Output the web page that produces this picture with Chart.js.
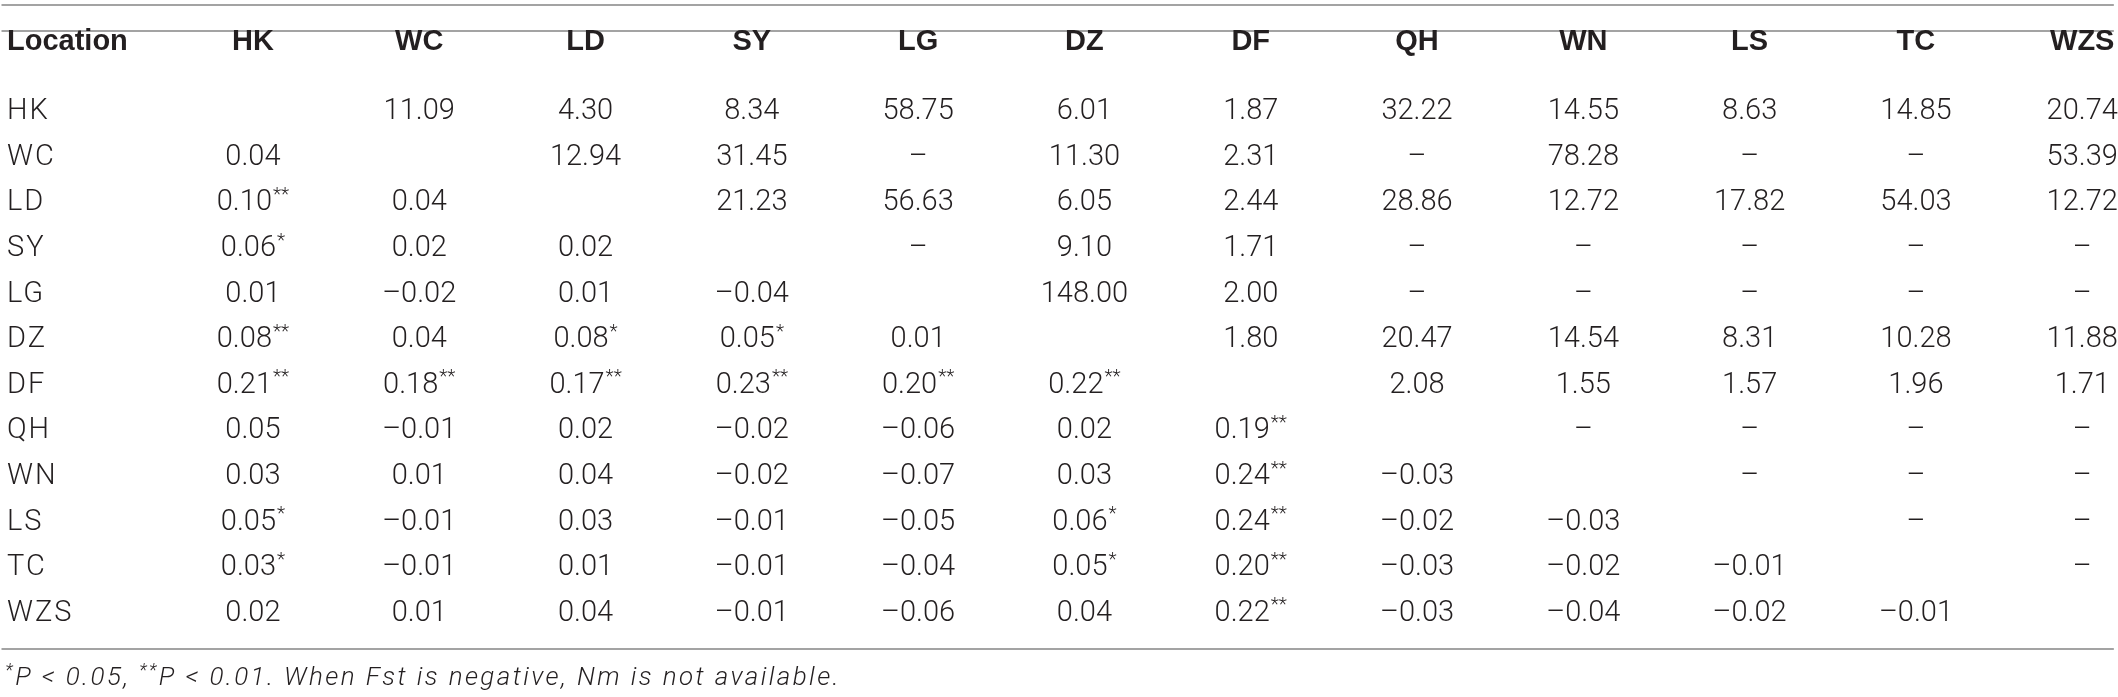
<!DOCTYPE html>
<html lang="en">
<head>
  <meta charset="UTF-8">
  <title>Fst / Nm table</title>
  <script src="https://cdn.jsdelivr.net/npm/chart.js"></script>
  <style>
    html, body { margin: 0; padding: 0; background: #fff; }
    .chart-container { position: relative; width: 2118px; height: 697px; }
  </style>
</head>
<body>

  <div class="chart-container">
    <canvas id="fstChart"></canvas>
  </div>

  <script>
    // column / row labels
    const locations = ['HK', 'WC', 'LD', 'SY', 'LG', 'DZ', 'DF', 'QH', 'WN', 'LS', 'TC', 'WZS'];

    // one array per row: below diagonal = Fst, above diagonal = Nm
    const rowHK  = ['', '11.09', '4.30', '8.34', '58.75', '6.01', '1.87', '32.22', '14.55', '8.63', '14.85', '20.74'];
    const rowWC  = ['0.04', '', '12.94', '31.45', '–', '11.30', '2.31', '–', '78.28', '–', '–', '53.39'];
    const rowLD  = ['0.10**', '0.04', '', '21.23', '56.63', '6.05', '2.44', '28.86', '12.72', '17.82', '54.03', '12.72'];
    const rowSY  = ['0.06*', '0.02', '0.02', '', '–', '9.10', '1.71', '–', '–', '–', '–', '–'];
    const rowLG  = ['0.01', '–0.02', '0.01', '–0.04', '', '148.00', '2.00', '–', '–', '–', '–', '–'];
    const rowDZ  = ['0.08**', '0.04', '0.08*', '0.05*', '0.01', '', '1.80', '20.47', '14.54', '8.31', '10.28', '11.88'];
    const rowDF  = ['0.21**', '0.18**', '0.17**', '0.23**', '0.20**', '0.22**', '', '2.08', '1.55', '1.57', '1.96', '1.71'];
    const rowQH  = ['0.05', '–0.01', '0.02', '–0.02', '–0.06', '0.02', '0.19**', '', '–', '–', '–', '–'];
    const rowWN  = ['0.03', '0.01', '0.04', '–0.02', '–0.07', '0.03', '0.24**', '–0.03', '', '–', '–', '–'];
    const rowLS  = ['0.05*', '–0.01', '0.03', '–0.01', '–0.05', '0.06*', '0.24**', '–0.02', '–0.03', '', '–', '–'];
    const rowTC  = ['0.03*', '–0.01', '0.01', '–0.01', '–0.04', '0.05*', '0.20**', '–0.03', '–0.02', '–0.01', '', '–'];
    const rowWZS = ['0.02', '0.01', '0.04', '–0.01', '–0.06', '0.04', '0.22**', '–0.03', '–0.04', '–0.02', '–0.01', ''];

    const rows = [rowHK, rowWC, rowLD, rowSY, rowLG, rowDZ, rowDF, rowQH, rowWN, rowLS, rowTC, rowWZS];
    const footnote = '*P < 0.05, **P < 0.01. When Fst is negative, Nm is not available.';

    // one point per cell (x = column, y = row); header row sits at HEADER_Y
    const HEADER_Y = -0.535;
    const LEFT_X = -0.479;
    const cells = [];
    cells.push({ x: LEFT_X, y: HEADER_Y, label: 'Location', kind: 'head' });
    locations.forEach((loc, c) => cells.push({ x: c + 1, y: HEADER_Y, label: loc, kind: 'head' }));
    rows.forEach((row, r) => {
      cells.push({ x: LEFT_X, y: r + 1, label: locations[r], kind: 'rowname' });
      row.forEach((v, c) => { if (v) cells.push({ x: c + 1, y: r + 1, label: v, kind: 'cell' }); });
    });
    cells.push({ x: LEFT_X - 0.01, y: 13.43, label: footnote, kind: 'note' });

    const TEXT = '#231f20';
    const LIGHT = '300 29px Roboto, "Liberation Sans", sans-serif';
    const BOLD = 'bold 29px "Liberation Sans", Arial, sans-serif';
    const STAR = '300 19px Roboto, sans-serif';

    // rules and text of every cell, placed from the element positions
    const tablePlugin = {
      id: 'tableText',
      afterDatasetsDraw(chart) {
        const ctx = chart.ctx;
        const xs = chart.scales.x, ys = chart.scales.y;
        ctx.save();
        ctx.strokeStyle = '#a3a3a3';
        ctx.lineWidth = 2;
        [-1.346, -0.767, 12.776].forEach(v => {
          const py = Math.round(ys.getPixelForValue(v));
          ctx.beginPath();
          ctx.moveTo(xs.getPixelForValue(-0.512), py);
          ctx.lineTo(xs.getPixelForValue(12.19), py);
          ctx.stroke();
        });

        ctx.fillStyle = TEXT;
        ctx.textBaseline = 'middle';
        const meta = chart.getDatasetMeta(0);
        meta.data.forEach((el, i) => {
          const d = cells[i];
          ctx.letterSpacing = '0px';
          if (d.kind === 'head') {
            ctx.font = BOLD;
            ctx.textAlign = (d.x === LEFT_X) ? 'left' : 'center';
            ctx.fillText(d.label, el.x, el.y);
          } else if (d.kind === 'rowname') {
            ctx.font = LIGHT;
            ctx.letterSpacing = '2px';
            ctx.textAlign = 'left';
            ctx.fillText(d.label, el.x, el.y);
          } else if (d.kind === 'note') {
            drawNote(ctx, d.label, el.x, el.y);
          } else {
            const m = d.label.match(/^([^*]*)(\**)$/);
            const num = m[1], stars = m[2];
            ctx.font = LIGHT;
            const wNum = ctx.measureText(num).width;
            ctx.font = STAR;
            const wStar = stars ? ctx.measureText(stars).width + 1 : 0;
            const left = el.x - (wNum + wStar) / 2;
            ctx.textAlign = 'left';
            ctx.font = LIGHT;
            ctx.fillText(num, left, el.y);
            if (stars) {
              ctx.font = STAR;
              ctx.fillText(stars, left + wNum + 1, el.y - 8);
            }
          }
        });
        ctx.restore();
      }
    };

    // footnote: light italic, asterisks raised
    function drawNote(ctx, text, x, y) {
      const parts = text.split(/(\*+)/);
      let px = x;
      ctx.textAlign = 'left';
      ctx.letterSpacing = '2.4px';
      parts.forEach(p => {
        if (!p) return;
        if (p[0] === '*') {
          ctx.font = 'italic 300 18px Roboto, sans-serif';
          ctx.fillText(p, px, y - 7);
          px += ctx.measureText(p).width;
        } else {
          ctx.font = 'italic 300 26px Roboto, "Liberation Sans", sans-serif';
          ctx.fillText(p, px, y);
          px += ctx.measureText(p).width;
        }
      });
    }

    const ctx1 = document.getElementById('fstChart').getContext('2d');
    new Chart(ctx1, {
      type: 'scatter',
      data: {
        datasets: [{
          data: cells,
          pointRadius: 0,
          pointHoverRadius: 0,
          showLine: false
        }]
      },
      options: {
        responsive: true,
        maintainAspectRatio: false,
        animation: false,
        devicePixelRatio: 1,
        layout: { padding: 0 },
        events: [],
        plugins: {
          legend: { display: false },
          tooltip: { enabled: false }
        },
        scales: {
          x: { type: 'linear', min: -0.521, max: 12.215, display: false },
          y: { type: 'linear', min: -1.456, max: 13.829, reverse: true, display: false }
        }
      },
      plugins: [tablePlugin]
    });
  </script>

</body>
</html>
